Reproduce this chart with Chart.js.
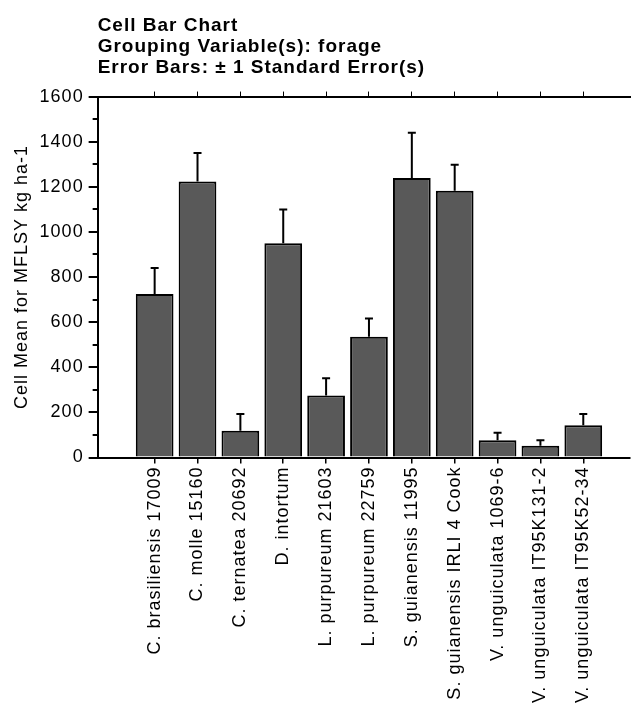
<!DOCTYPE html>
<html lang="en">
<head>
  <meta charset="UTF-8" />
  <title>Cell Bar Chart</title>
  <script src="https://cdn.jsdelivr.net/npm/chart.js"></script>
  <style>
    body {
      margin: 0;
      background: #fff;
    }
    .wrap {
      width: 636px;
      height: 707px;
    }
  </style>
</head>
<body>
  <div class="wrap">
    <canvas id="cellbar"></canvas>
  </div>

  <script>
    const forages = [
      'C. brasiliensis 17009', 'C. molle 15160', 'C. ternatea 20692', 'D. intortum',
      'L. purpureum 21603', 'L. purpureum 22759', 'S. guianensis 11995',
      'S. guianensis IRLI 4 Cook', 'V. unguiculata 1069-6',
      'V. unguiculata IT95K131-2', 'V. unguiculata IT95K52-34'
    ];
    const cellMeans = [725, 1224, 119, 950, 275, 535, 1239, 1183, 77, 52, 143];
    const stdErrors = [115, 126, 74, 149, 76, 81, 201, 115, 33, 25, 50];
    const yTicks = [0, 200, 400, 600, 800, 1000, 1200, 1400, 1600];
    const titleLines = ['Cell Bar Chart', 'Grouping Variable(s): forage', 'Error Bars: \u00b1 1 Standard Error(s)'];

    const font = "'Liberation Sans', Arial, sans-serif";
    const catTicks = sc => { sc.ticks = forages.map((f, i) => ({ value: i })); };

    // the original text is a bit wider than Arial, so spread letters a little
    const spacing = {
      id: 'spacing',
      beforeLayout(chart) { chart.ctx.letterSpacing = '1px'; },
      beforeDraw(chart) { chart.ctx.letterSpacing = '1px'; }
    };

    // error bars (upper half only) and minor y ticks
    const extras = {
      id: 'extras',
      afterDatasetsDraw(chart) {
        const { ctx, scales: { x, y } } = chart;
        ctx.save();
        ctx.strokeStyle = '#000';
        ctx.lineWidth = 2;
        cellMeans.forEach((m, i) => {
          const px = x.getPixelForValue(i);
          const top = y.getPixelForValue(m + stdErrors[i]);
          ctx.beginPath();
          ctx.moveTo(px, y.getPixelForValue(m));
          ctx.lineTo(px, top);
          ctx.moveTo(px - 4, top);
          ctx.lineTo(px + 4, top);
          ctx.stroke();
        });
        for (let v = 100; v < 1600; v += 200) {
          const py = Math.round(y.getPixelForValue(v));
          ctx.beginPath();
          ctx.moveTo(y.right - 5, py);
          ctx.lineTo(y.right, py);
          ctx.stroke();
        }
        ctx.restore();
      }
    };

    new Chart(document.getElementById('cellbar'), {
      type: 'bar',
      data: {
        datasets: [{
          data: cellMeans.map((m, i) => ({ x: i, y: m })),
          backgroundColor: '#595959',
          borderColor: '#000',
          borderWidth: 2,
          barPercentage: 0.88,
          categoryPercentage: 1
        }]
      },
      options: {
        responsive: true,
        maintainAspectRatio: false,
        animation: false,
        layout: { padding: { left: 11, right: 6, top: 16, bottom: 1 } },
        plugins: {
          legend: { display: false },
          tooltip: { enabled: false },
          title: {
            display: true,
            text: titleLines,
            align: 'start',
            fullSize: false,
            color: '#000',
            font: { family: font, size: 19, weight: 'bold', lineHeight: 1.08 },
            padding: { top: 0, bottom: 14 }
          }
        },
        scales: {
          x: {
            type: 'linear',
            min: -1.33,
            max: 11.09,
            offset: false,
            afterBuildTicks: catTicks,
            ticks: {
              callback: (v) => forages[v],
              autoSkip: false,
              minRotation: 90,
              maxRotation: 90,
              color: '#000',
              font: { family: font, size: 18 },
              padding: 3
            },
            grid: { offset: false, drawOnChartArea: false, tickLength: 6, color: '#000', lineWidth: 1.5 },
            border: { color: '#000', width: 2 }
          },
          xTop: {
            type: 'linear',
            position: 'top',
            min: -1.33,
            max: 11.09,
            offset: false,
            afterBuildTicks: catTicks,
            ticks: { display: false },
            grid: { offset: false, drawOnChartArea: false, tickLength: 5, color: '#000', lineWidth: 1 },
            border: { color: '#000', width: 2 }
          },
          y: {
            min: 0,
            max: 1600,
            afterBuildTicks: sc => { sc.ticks = yTicks.map(v => ({ value: v })); },
            ticks: {
              callback: (v) => String(v),
              color: '#000',
              font: { family: font, size: 18 },
              padding: 5
            },
            grid: { drawOnChartArea: false, tickLength: 9, color: '#000', lineWidth: 2 },
            border: { color: '#000', width: 2 },
            title: {
              display: true,
              text: 'Cell Mean for MFLSY kg ha-1',
              color: '#000',
              font: { family: font, size: 18 },
              padding: { top: 0, bottom: 2 }
            }
          }
        }
      },
      plugins: [spacing, extras]
    });
  </script>
</body>
</html>
